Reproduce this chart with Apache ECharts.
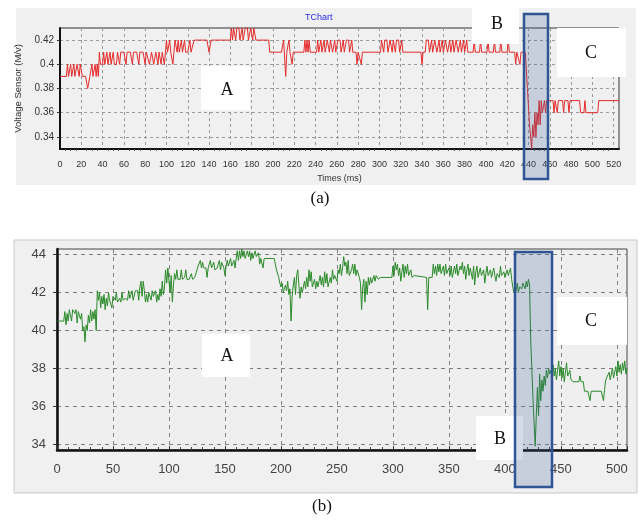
<!DOCTYPE html>
<html>
<head>
<meta charset="utf-8">
<script src="https://cdn.jsdelivr.net/npm/echarts@6/dist/echarts.min.js"></script>
<style>
  html, body { margin: 0; padding: 0; background: #fff; }
</style>
</head>
<body>
<div id="chart" style="width:640px;height:520px;"></div>
<script>
// (a) voltage sensor, [time ms, voltage]
const voltagePoints = [
  [0,0.39],[6,0.39],[7,0.40],[8,0.39],[10,0.40],[11,0.39],[13,0.40],[14,0.39],[16,0.40],[18,0.39],[19,0.40],[21,0.39],[24,0.39],[26,0.38],[28,0.39],[30,0.40],[31,0.39],[33,0.40],[34,0.39],[35,0.40],[36,0.39],[37,0.41],
  [38,0.40],[40,0.40],[41,0.41],[42,0.40],[44,0.41],[45,0.40],[47,0.41],[48,0.40],[50,0.41],[51,0.40],[53,0.40],[54,0.41],[56,0.40],[57,0.41],[60,0.41],[62,0.40],[63,0.41],[66,0.41],[68,0.40],[69,0.41],[72,0.41],[74,0.40],[75,0.41],[78,0.41],[80,0.40],[81,0.41],[84,0.40],[85,0.40],[86,0.41],[88,0.40],[90,0.41],[92,0.40],[93,0.41],[95,0.40],[96,0.41],[98,0.40],[99,0.41],
  [100,0.42],[101,0.41],[103,0.42],[104,0.41],[106,0.40],[107,0.41],[108,0.42],[110,0.41],[111,0.42],[112,0.41],[114,0.42],[115,0.41],[117,0.42],[118,0.41],[120,0.41],[122,0.42],[123,0.41],[126,0.42],[138,0.42],[140,0.41],[142,0.42],[160,0.42],
  [161,0.43],[162,0.42],[163,0.43],[165,0.42],[166,0.43],[168,0.43],[169,0.42],[171,0.43],[172,0.42],[174,0.43],[176,0.43],[177,0.42],[179,0.43],[181,0.42],[182,0.43],[184,0.42],[196,0.42],[197,0.41],
  [208,0.41],[210,0.42],[212,0.39],[213,0.41],[215,0.42],[216,0.41],[218,0.40],[219,0.41],[229,0.41],[230,0.42],[231,0.41],[232,0.42],[233,0.41],[234,0.42],[235,0.41],[241,0.41],[242,0.42],[243,0.41],[245,0.42],[246,0.41],[248,0.42],[249,0.41],[251,0.42],[253,0.41],[254,0.42],[256,0.41],[258,0.42],[259,0.41],
  [261,0.42],[263,0.42],[264,0.41],[266,0.42],[267,0.41],[269,0.42],[271,0.42],[272,0.41],[274,0.42],[275,0.41],[278,0.41],[279,0.40],[280,0.41],[283,0.40],[284,0.41],[301,0.41],
  [302,0.42],[304,0.41],[305,0.42],[307,0.42],[308,0.41],[310,0.42],[312,0.41],[313,0.42],[315,0.41],[316,0.42],[318,0.42],[319,0.41],[321,0.42],[322,0.41],[339,0.41],[340,0.40],[341,0.41],[343,0.41],
  [344,0.42],[346,0.42],[347,0.41],[349,0.42],[350,0.41],[352,0.42],[353,0.42],[354,0.41],[356,0.42],[357,0.41],[359,0.42],[360,0.41],[362,0.42],[364,0.41],[366,0.42],[367,0.41],[369,0.42],[370,0.41],[372,0.42],[374,0.41],[376,0.42],[377,0.41],[379,0.42],[380,0.41],[382,0.42],[383,0.41],
  [388,0.41],[389,0.42],[390,0.41],[394,0.41],[395,0.42],[396,0.41],[401,0.41],[402,0.42],[403,0.41],[407,0.41],[408,0.42],[409,0.41],[413,0.41],[414,0.42],[415,0.41],[420,0.41],[421,0.42],[422,0.41],
  [427,0.41],[428,0.40],[429,0.41],[432,0.40],[433,0.41],[437,0.41],[439,0.38],[441,0.35],[443,0.33],[444,0.35],[445,0.34],[446,0.36],[447,0.34],[448,0.36],[449,0.35],[450,0.37],[451,0.35],[452,0.37],[453,0.36],[455,0.37],[456,0.36],[457,0.37],
  [463,0.37],[464,0.36],[465,0.37],[467,0.36],[468,0.37],[472,0.37],[473,0.36],[474,0.37],[477,0.37],[478,0.36],[479,0.37],[488,0.37],[489,0.36],[492,0.36],[493,0.37],[494,0.36],[505,0.36],[506,0.37],[525,0.37]
];

// (b) second recording, [time, value]
const signalPoints = [
  [0,40.5],[6,40.5],[7,41.0],[8,40.3],[9,40.9],[10,40.5],[11,41.1],[13,40.5],[14,41.1],[16,40.9],[17,41.1],[18,40.4],[19,41.0],[21,40.6],[22,40.9],[23,40.0],[24,40.2],[25,39.4],[26,40.3],[27,40.0],[28,40.8],[29,40.4],[30,41.1],[31,40.5],[32,41.0],[33,40.6],[34,41.1],[35,40.0],
  [36,42.1],[37,41.6],[38,42.0],[39,41.2],[40,41.8],[41,41.4],[42,41.9],[43,41.1],[44,41.7],[45,41.3],[46,42.0],[47,41.6],[48,41.7],[49,41.2],[50,41.8],[52,41.6],[53,42.0],[54,41.5],[56,41.7],[57,41.5],[58,42.0],[59,41.6],[61,41.7],[63,41.6],[64,42.1],[65,41.7],[67,42.1],[68,41.6],[70,42.1],[72,42.1],[73,41.6],[74,42.3],[75,42.6],[76,41.8],[77,42.6],[78,42.1],[79,41.5],[80,41.9],[81,41.5],[82,42.0],[84,41.6],[85,42.1],[86,41.8],[88,42.1],[89,41.5],[90,41.9],[91,41.6],[92,42.2],[93,41.8],[94,42.6],[95,41.9],[96,42.3],
  [97,43.2],[98,42.5],[99,43.3],[100,42.6],[101,42.0],[102,42.9],[103,41.5],[104,42.4],[105,43.0],[106,42.7],[107,43.2],[108,42.7],[110,42.7],[111,43.2],[112,42.7],[114,42.8],[115,43.2],[116,42.7],[118,42.7],[120,43.0],[121,42.7],[123,42.8],[125,43.2],
  [126,43.4],[128,43.7],[129,43.3],[130,43.6],[131,43.3],[133,43.3],[134,42.8],[135,43.3],[137,43.7],[138,43.3],[140,43.6],[141,43.2],[143,43.3],[145,43.7],[146,43.2],[147,43.6],[149,43.3],[150,42.9],[151,43.4],[152,43.7],[153,43.4],[155,43.8],[156,43.4],[158,43.7],[159,43.3],[160,43.8],
  [161,44.2],[162,43.7],[163,44.2],[164,43.8],[165,44.3],[166,43.9],[167,44.2],[168,43.8],[170,44.2],[171,43.9],[172,44.2],[173,43.7],[174,44.1],[175,43.8],[177,44.2],[178,43.9],[180,44.1],[181,43.5],[182,43.8],[184,43.3],[185,43.8],[194,43.8],
  [196,43.2],[198,42.8],[199,42.5],[200,42.3],[201,42.5],[202,42.0],[204,42.4],[205,42.1],[206,42.6],[207,41.9],[208,42.2],[209,40.5],[210,41.8],[211,42.4],[212,42.8],[213,41.9],[214,42.9],[215,43.2],[216,42.4],[217,41.7],[218,42.3],[219,42.0],[221,42.6],[222,42.2],[223,42.8],[224,42.3],[225,43.2],[226,42.6],[227,43.1],[228,42.3],[230,42.7],[231,42.2],[232,42.6],[233,42.3],[235,42.9],[236,42.4],[237,42.8],[238,42.3],[239,43.1],[240,42.5],[241,43.0],[242,42.3],[244,42.8],[245,42.5],[246,43.2],[247,42.7],[248,42.9],[250,42.6],
  [251,43.2],[252,43.0],[253,43.5],[254,42.9],[255,43.3],[256,43.9],[257,43.4],[258,43.6],[259,43.0],[260,43.7],[261,42.9],[263,43.2],[264,43.5],[265,43.0],[266,43.5],[267,42.9],[268,43.2],[270,42.8],[271,42.5],[272,41.1],[273,42.3],[274,42.7],[275,41.5],[276,42.6],[277,41.9],[278,42.8],[279,42.4],[280,42.8],[281,42.5],[283,42.9],[284,42.6],[285,42.9],[287,42.7],[289,42.8],[299,42.8],
  [300,43.4],[301,42.9],[302,43.6],[303,43.2],[304,43.5],[305,42.9],[306,43.3],[307,42.6],[308,43.1],[309,43.5],[310,42.8],[311,43.4],[312,43.0],[313,43.5],[314,42.9],[316,43.2],[317,42.8],[319,42.9],[320,42.8],[330,42.8],[331,41.1],[332,42.8],[335,42.8],
  [336,43.5],[337,43.0],[338,43.4],[339,42.9],[340,43.5],[341,43.1],[342,43.5],[343,43.0],[345,43.4],[346,42.9],[347,43.5],[348,43.0],[350,43.3],[351,42.9],[352,43.4],[353,42.8],[355,43.4],[356,43.0],[357,43.5],[358,42.9],[360,43.4],[361,43.2],[362,43.6],[363,43.0],[364,43.4],[365,42.7],[366,43.2],[367,43.5],[368,42.9],[369,43.3],[371,42.7],[372,43.4],[373,42.4],[374,43.1],[375,43.4],[376,42.8],[378,43.3],[379,42.9],[381,43.2],[382,42.5],[383,43.0],[384,43.4],[385,42.9],[387,43.2],[388,42.8],[390,43.3],[391,42.9],[392,42.6],[393,43.0],[395,42.8],[396,43.4],[397,42.9],[399,43.1],[400,42.8],[402,43.2],[403,42.9],[405,43.3],[406,42.7],
  [407,42.3],[408,42.0],[409,42.3],[410,42.1],[411,42.5],[412,42.0],[413,42.3],[415,42.2],[416,42.5],[418,42.2],[419,42.6],[420,42.3],[421,42.7],[422,42.4],
  [423,39.5],[425,36.5],[427,33.9],[428,35.5],[429,37.0],[430,35.5],[431,37.7],[432,36.3],[433,37.4],[434,36.8],[435,37.6],[436,37.1],[437,37.9],[438,37.5],[439,38.0],[440,37.7],[441,37.9],[442,37.6],[443,38.2],[444,37.6],[445,38.0],[446,37.4],[447,37.9],[448,38.4],[449,37.6],[450,38.1],[451,37.5],[452,38.0],[453,37.3],[454,37.8],[455,38.3],[456,37.6],[458,37.9],[459,37.4],[461,37.3],[466,37.3],[467,37.6],[468,37.3],[470,37.3],[471,36.8],[474,36.8],[476,36.3],[477,36.8],[486,36.8],[488,36.3],[489,36.9],[490,37.4],[491,37.4],[493,37.8],[494,37.4],[496,38.0],[497,37.5],[499,38.1],[500,37.6],[501,38.4],[502,37.8],[503,38.2],[504,37.7],[505,38.3],[506,37.9],[507,38.4],[508,37.7],[509,38.0]
];

// axis ranges and tick steps
const voltageRange = [0.33, 0.43];
const voltageStep = 0.02;
const timeRangeA = [0, 525];
const timeStepA = 20;
const signalRange = [33.7, 44.3];
const signalStep = 2;
const timeRangeB = [0, 509];
const timeStepB = 50;

const serif = '"Liberation Serif", "Times New Roman", serif';
const sans = '"Liberation Sans", Arial, sans-serif';

function box (x, y, w, h, letter, cx, cy) {
  return [
    { type: 'rect', z: 50, shape: { x: x, y: y, width: w, height: h }, style: { fill: '#ffffff' } },
    { type: 'text', z: 51, x: cx, y: cy, style: { text: letter, font: '18px ' + serif, fill: '#111', textAlign: 'center', textVerticalAlign: 'middle' } }
  ];
}

function highlight (x, y, w, h) {
  return { type: 'rect', z: 60, shape: { x: x, y: y, width: w, height: h },
    style: { fill: 'rgba(55,90,150,0.22)', stroke: '#2f5597', lineWidth: 2.5 } };
}

let myChart = echarts.init(document.getElementById('chart'));
let option = {
  animation: false,
  backgroundColor: '#ffffff',
  title: {
    text: 'TChart',
    left: 300,
    top: 8,
    textStyle: { color: '#2a2ae0', fontSize: 9, fontWeight: 'normal', fontFamily: sans }
  },
  grid: [
    { left: 60, top: 28, width: 559, height: 121, show: true, backgroundColor: '#f0f0f0', borderColor: '#333', borderWidth: 1 },
    { left: 57, top: 249, width: 570, height: 201, show: true, backgroundColor: '#efefef', borderColor: '#444', borderWidth: 1 }
  ],
  xAxis: [
    {
      type: 'value', gridIndex: 0, min: timeRangeA[0], max: timeRangeA[1], interval: timeStepA,
      name: 'Times (ms)', nameLocation: 'middle', nameGap: 25,
      nameTextStyle: { fontSize: 9, color: '#333', fontFamily: sans },
      axisLine: { onZero: false, lineStyle: { color: '#111', width: 2 } },
      axisTick: { show: false },
      minorTick: { show: true, splitNumber: 4, length: 2, lineStyle: { color: '#555' } },
      axisLabel: { fontSize: 9, color: '#333', fontFamily: sans, margin: 11, showMaxLabel: false },
      splitLine: { show: true, showMinLine: false, showMaxLine: false, lineStyle: { color: '#9a9a9a', type: [3, 3] } }
    },
    {
      type: 'value', gridIndex: 1, min: timeRangeB[0], max: timeRangeB[1], interval: timeStepB,
      axisLine: { onZero: false, lineStyle: { color: '#111', width: 2.5 } },
      axisTick: { show: true, inside: true, length: 4, lineStyle: { color: '#333' } },
      minorTick: { show: true, splitNumber: 5, length: 3, lineStyle: { color: '#444' } },
      axisLabel: { fontSize: 13, color: '#444', fontFamily: sans, margin: 13, showMaxLabel: false },
      splitLine: { show: true, showMinLine: false, showMaxLine: false, lineStyle: { color: '#808080', type: [4, 4] } }
    }
  ],
  yAxis: [
    {
      type: 'value', gridIndex: 0, min: voltageRange[0], max: voltageRange[1],
      minInterval: voltageStep, maxInterval: voltageStep,
      name: 'Voltage Sensor (M/v)', nameLocation: 'middle', nameGap: 32,
      nameTextStyle: { fontSize: 9.5, color: '#333', fontFamily: sans },
      axisLine: { show: true, onZero: false, lineStyle: { color: '#111', width: 2 } },
      axisTick: { show: true, length: 3, lineStyle: { color: '#333' } },
      axisLabel: { fontSize: 10, color: '#333', fontFamily: sans, margin: 6, showMinLabel: false, showMaxLabel: false },
      splitLine: { show: true, showMinLine: false, showMaxLine: false, lineStyle: { color: '#9a9a9a', type: [3, 3] } }
    },
    {
      type: 'value', gridIndex: 1, min: signalRange[0], max: signalRange[1],
      minInterval: signalStep, maxInterval: signalStep,
      axisLine: { show: true, onZero: false, lineStyle: { color: '#111', width: 2.5 } },
      axisTick: { show: true, length: 4, lineStyle: { color: '#333' } },
      axisLabel: { fontSize: 13, color: '#444', fontFamily: sans, margin: 11, showMinLabel: false, showMaxLabel: false },
      splitLine: { show: true, showMinLine: false, showMaxLine: false, lineStyle: { color: '#808080', type: [4, 4] } }
    }
  ],
  series: [
    {
      name: 'Voltage Sensor', type: 'line', xAxisIndex: 0, yAxisIndex: 0,
      data: voltagePoints, showSymbol: false, z: 5,
      lineStyle: { color: '#e52b2b', width: 1 }
    },
    {
      name: 'Signal', type: 'line', xAxisIndex: 1, yAxisIndex: 1,
      data: signalPoints, showSymbol: false, z: 5,
      lineStyle: { color: '#2a8a2a', width: 1 }
    }
  ],
  graphic: {
    elements: [
      // panel backgrounds
      { type: 'rect', z: -10, shape: { x: 16, y: 8, width: 620, height: 177 }, style: { fill: '#f0f0f0' } },
      { type: 'rect', z: -10, shape: { x: 14, y: 240, width: 623, height: 253 }, style: { fill: '#f0f0f0', stroke: '#c8c8c8', lineWidth: 1 } },
      // captions
      { type: 'text', x: 320, y: 199, style: { text: '(a)', font: '17px ' + serif, fill: '#111', textAlign: 'center', textVerticalAlign: 'middle' } },
      { type: 'text', x: 322, y: 507, style: { text: '(b)', font: '17px ' + serif, fill: '#111', textAlign: 'center', textVerticalAlign: 'middle' } }
    ]
      // (a) labels
      .concat(box(201, 66, 49, 44, 'A', 227, 90))
      .concat(box(472, 0, 47, 44, 'B', 497, 24))
      .concat(box(557, 28, 69, 49, 'C', 591, 53))
      .concat([highlight(524, 14, 24, 165)])
      // (b) labels
      .concat(box(202, 334, 48, 43, 'A', 227, 356))
      .concat(box(557, 297, 70, 48, 'C', 591, 321))
      .concat(box(476, 416, 47, 44, 'B', 500, 439))
      .concat([highlight(515, 252, 37, 235)])
  }
};
myChart.setOption(option);
</script>
</body>
</html>
